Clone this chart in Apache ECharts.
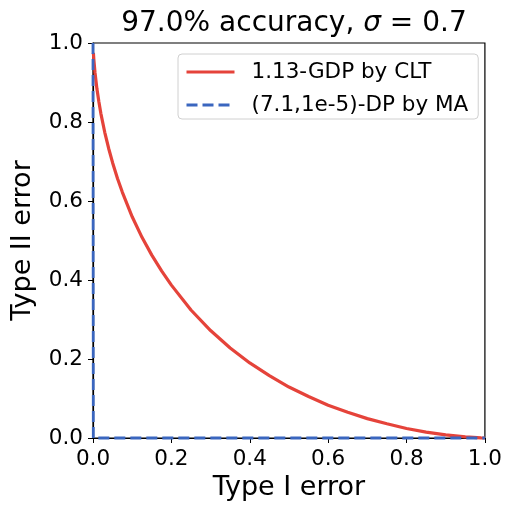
<!DOCTYPE html>
<html><head><meta charset="utf-8">
<script src="https://cdn.jsdelivr.net/npm/echarts@6/dist/echarts.min.js"></script>
<style>html,body{margin:0;padding:0;background:#fff}#c{width:505px;height:510px}</style>
</head><body><div id="c"></div>
<script>
// Type I error (x) and Type II error (y)
const gdpX = [0.001, 0.002, 0.005, 0.01, 0.015, 0.02, 0.03, 0.04, 0.05, 0.0625, 0.075, 0.1, 0.125, 0.15, 0.175, 0.2, 0.25, 0.3, 0.35, 0.4, 0.45, 0.5, 0.55, 0.6, 0.65, 0.7, 0.75, 0.8, 0.85, 0.9, 0.95, 0.99, 1.0];
const gdpY = [0.975, 0.960, 0.926, 0.884, 0.851, 0.822, 0.774, 0.733, 0.697, 0.657, 0.622, 0.560, 0.508, 0.463, 0.423, 0.387, 0.324, 0.272, 0.228, 0.190, 0.158, 0.129, 0.105, 0.083, 0.065, 0.049, 0.036, 0.024, 0.015, 0.008, 0.003, 0.0003, 0.0];
const dpX = [0.0, 0.0008, 1.0];
const dpY = [1.0, 0.0, 0.0];
const xTicks = ['0.0','0.2','0.4','0.6','0.8','1.0'];
const yTicks = ['0.0','0.2','0.4','0.6','0.8','1.0'];
const seriesNames = ['1.13-GDP by CLT', '(7.1,1e-5)-DP by MA'];

const FONT = 'DejaVu Sans';
const chart = echarts.init(document.getElementById('c'), null, {renderer: 'canvas'});
const zip = (xs, ys) => xs.map((x, i) => [x, ys[i]]);
chart.setOption({
  animation: false,
  backgroundColor: '#fff',
  title: {
    text: '{a|97.0% accuracy, }{b|σ}{a| = 0.7}',
    left: 289, top: 5, textAlign: 'center',
    textStyle: {
      fontWeight: 'normal',
      rich: {
        a: {fontFamily: FONT, fontSize: 28, fontWeight: 'normal', color: '#000'},
        b: {fontFamily: FONT, fontSize: 28, fontWeight: 'normal', fontStyle: 'italic', color: '#000'}
      }
    }
  },
  grid: {left: 93, right: 17, top: 43, bottom: 72, show: true, borderColor: '#000', borderWidth: 1.2, backgroundColor: 'transparent'},
  legend: {
    show: true,
    left: 178, top: 54,
    orient: 'vertical',
    align: 'left',
    itemWidth: 48, itemHeight: 22, itemGap: 11,
    padding: [7, 10, 3, 7],
    borderColor: '#d0d0d0', borderWidth: 1, borderRadius: 4,
    backgroundColor: 'rgba(255,255,255,0.8)',
    itemStyle: {opacity: 0},
    lineStyle: {width: 3},
    textStyle: {fontFamily: FONT, fontSize: 21.5, color: '#000', padding: [0,0,0,12]},
    data: seriesNames
  },
  xAxis: {
    type: 'value', min: 0, max: 1, interval: 0.2,
    name: 'Type I error', nameLocation: 'middle', nameGap: 34,
    nameTextStyle: {fontFamily: FONT, fontSize: 27, color: '#000'},
    axisLine: {show: true, lineStyle: {color: '#000', width: 1.2}},
    axisTick: {show: true, inside: false, length: 5, lineStyle: {color: '#000', width: 1}},
    axisLabel: {fontFamily: FONT, fontSize: 21.5, color: '#000', margin: 10,
      formatter: v => xTicks[Math.round(v * 5)]},
    splitLine: {show: false}
  },
  yAxis: {
    type: 'value', min: 0, max: 1, interval: 0.2,
    name: 'Type II error', nameLocation: 'middle', nameGap: 57,
    nameTextStyle: {fontFamily: FONT, fontSize: 27, color: '#000'},
    axisLine: {show: true, lineStyle: {color: '#000', width: 1.2}},
    axisTick: {show: true, inside: false, length: 5, lineStyle: {color: '#000', width: 1}},
    axisLabel: {fontFamily: FONT, fontSize: 21.5, color: '#000', margin: 10,
      formatter: v => yTicks[Math.round(v * 5)]},
    splitLine: {show: false}
  },
  series: [
    {name: seriesNames[0], type: 'line', data: zip(gdpX, gdpY), symbol: 'none', showSymbol: false, smooth: false, clip: false,
      lineStyle: {color: '#e5433a', width: 3.2}, itemStyle: {color: '#e5433a'}},
    {name: seriesNames[1], type: 'line', data: zip(dpX, dpY), symbol: 'none', showSymbol: false, clip: false,
      lineStyle: {color: '#3a66bf', width: 2.8, type: [11, 5]}, itemStyle: {color: '#3a66bf'}}
  ]
});
</script></body></html>
